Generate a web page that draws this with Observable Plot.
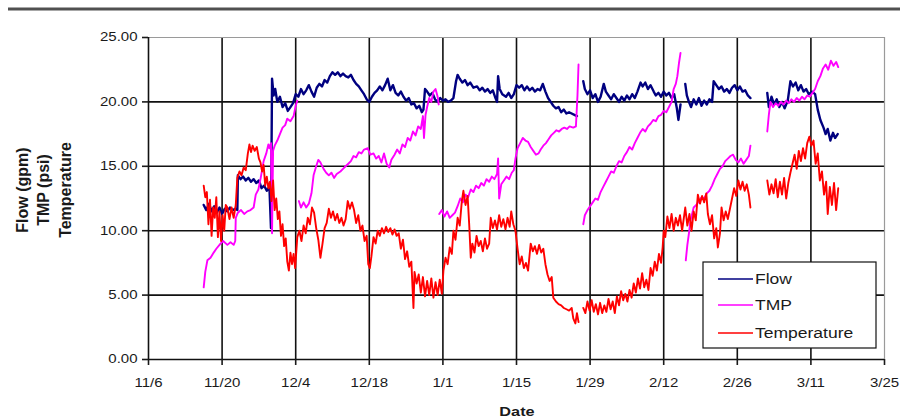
<!DOCTYPE html>
<html><head><meta charset="utf-8">
<script src="https://cdn.jsdelivr.net/npm/d3@7"></script>
<script src="https://cdn.jsdelivr.net/npm/@observablehq/plot@0.6"></script>
<style>
html,body{margin:0;padding:0;background:#fff;}
#chart{width:900px;height:419px;overflow:hidden;}
</style></head><body><div id="chart"></div>
<script>
// x = days since 11/6 (2003); null = gap in the record
const tickDays = [0,14,28,42,56,70,84,98,112,126,140];
const tickLabels = ["11/6","11/20","12/4","12/18","1/1","1/15","1/29","2/12","2/26","3/11","3/25"];
const yTicks = [0,5,10,15,20,25];
const seriesNames = ["Flow","TMP","Temperature"];
const seriesColors = ["#000080","#ff00ff","#ff0000"];

const flow = [
[10.5,12.0],[11.0,11.6],[11.5,12.1],[12.0,11.5],[12.5,11.9],[13.0,11.4],[13.5,11.8],[14.0,11.3],[14.5,11.7],[15.0,11.5],[15.5,11.8],[16.0,11.6],[16.5,11.7],[16.9,11.6],
[17.0,14.3],[17.5,14.0],[18.0,14.2],[18.5,13.9],[19.0,14.1],[19.5,13.8],[20.0,14.0],[20.5,13.7],[21.0,13.9],[21.5,13.3],[22.0,13.5],[22.5,13.1],[23.0,13.4],[23.3,10.2],
[23.5,21.8],[23.8,20.5],[24.1,21.0],[24.5,20.0],[25.0,20.4],[25.5,19.6],[26.0,19.9],[26.5,19.3],[27.0,19.6],[27.5,19.9],[28.0,20.6],[28.5,20.4],[29.0,21.0],[29.5,20.6],
[30.0,20.9],[30.5,21.3],[31.0,20.8],[31.5,20.4],[32.0,21.1],[32.5,21.4],[33.0,21.2],[33.5,21.7],[34.0,21.5],[34.5,22.0],[35.0,22.3],[35.5,22.1],[36.0,22.3],[36.5,22.0],
[37.0,22.2],[37.5,22.0],[38.0,21.9],[38.5,22.1],[39.0,21.7],[39.5,21.4],[40.0,21.2],[40.5,20.9],[41.0,20.6],[41.5,20.2],[42.0,20.0],[42.5,20.4],[43.0,20.7],[43.5,20.9],
[44.0,21.2],[44.5,20.9],[45.0,21.3],[45.5,21.8],[46.0,20.9],[46.5,21.3],[47.0,20.7],[47.5,20.5],[48.0,20.8],[48.5,20.4],[49.0,20.1],[49.5,20.3],[50.0,19.8],[50.5,19.9],
[51.0,19.5],[51.5,19.7],[52.0,19.2],[52.3,19.4],[52.6,21.0],[53.0,20.8],[53.5,20.5],[54.0,20.7],[54.5,20.2],[55.0,20.0],[55.5,20.3],[56.0,20.1],[56.5,20.2],[57.0,20.0],
[57.5,20.1],[58.0,20.3],[58.5,21.6],[58.8,22.1],[59.2,21.8],[59.7,21.5],[60.2,21.7],[60.7,21.3],[61.2,21.5],[61.8,21.1],[62.5,21.2],[63.0,20.9],[63.5,21.1],[64.0,20.8],
[64.5,21.0],[65.0,20.7],[65.5,20.9],[66.0,20.3],[66.3,20.0],[66.5,22.0],[66.8,21.0],[67.3,20.6],[68.0,20.4],[68.5,20.7],[69.0,20.3],[69.5,20.6],[70.0,21.3],[70.5,21.1],
[71.0,21.3],[71.5,20.9],[72.0,21.2],[72.5,20.9],[73.0,21.1],[73.5,20.8],[74.0,21.0],[74.5,20.9],[75.0,21.4],[75.5,20.8],[76.0,20.3],[76.5,20.0],[77.0,19.7],[77.5,19.5],
[78.0,19.6],[78.5,19.2],[79.0,19.4],[79.5,19.1],[80.0,19.2],[81.5,18.9],
null,
[82.7,21.6],[83.0,21.0],[83.5,20.6],[84.0,20.9],[84.5,20.3],[85.0,20.6],[85.5,20.0],[86.0,20.4],[86.6,21.4],[87.0,20.8],[87.5,20.5],[88.0,20.2],[88.5,20.6],[89.0,20.3],
[89.5,20.0],[90.0,20.4],[90.5,20.1],[91.0,20.5],[91.5,20.2],[92.0,20.6],[92.5,20.3],[93.0,20.8],[93.6,21.5],[94.0,21.2],[94.5,21.5],[95.0,21.0],[95.5,21.3],[96.1,20.8],
[96.5,20.5],[97.0,20.7],[97.5,20.4],[98.0,20.8],[98.5,20.5],[99.0,20.7],[99.5,20.3],[100.0,20.6],[100.5,19.5],[100.8,18.6],[101.2,19.8],
null,
[102.1,21.4],[102.4,20.5],[102.8,20.0],[103.2,19.6],[103.7,20.2],[104.2,19.8],[104.7,20.3],[105.2,19.7],[105.7,20.1],[106.2,19.8],[106.7,20.2],[107.2,20.0],[107.5,21.6],
[108.0,21.3],[108.5,21.0],[109.0,21.2],[109.5,20.8],[110.0,21.0],[110.5,20.7],[111.0,21.1],[111.5,21.3],[112.0,20.9],[112.5,21.2],[113.0,20.8],[113.5,20.9],[114.0,20.5],[114.5,20.3],
null,
[117.7,20.7],[118.0,19.6],[118.5,20.4],[119.0,19.8],[119.5,20.2],[120.0,19.6],[120.5,20.0],[121.0,19.5],[121.6,20.1],[122.1,21.6],[122.6,21.2],[123.1,21.5],[123.6,20.9],
[124.1,21.3],[124.6,20.8],[125.1,21.0],[125.6,20.6],[126.2,20.8],[126.8,20.6],[127.3,19.4],[127.8,18.6],[128.4,18.0],[128.8,17.5],[129.2,17.9],[129.7,17.0],[130.2,17.6],[130.6,17.2],[131.1,17.5]
];

const tmp = [
[10.5,5.6],[10.8,6.8],[11.2,7.7],[11.8,7.9],[12.4,8.3],[12.9,8.6],[13.7,9.0],[14.2,9.2],[15.0,8.9],[15.6,9.1],[16.2,8.9],[16.5,9.2],[16.6,11.0],[17.0,11.4],[17.6,11.6],
[18.2,11.3],[18.8,11.5],[19.4,11.6],[20.0,11.8],[20.4,12.8],[20.9,13.2],[21.3,14.0],[21.9,15.4],[22.4,16.0],[22.8,16.7],[23.0,16.4],[23.3,16.8],[23.5,9.8],[23.7,16.2],
[24.0,16.6],[24.5,17.0],[25.0,17.5],[25.5,18.0],[26.0,18.2],[26.4,18.7],[27.0,18.5],[27.6,18.9],[28.0,19.7],[28.3,20.1],
null,
[28.6,12.3],[29.0,11.8],[29.5,12.2],[30.0,11.8],[30.5,12.1],[31.0,12.9],[31.4,14.3],[31.9,15.0],[32.3,15.5],[32.7,15.3],[33.3,14.8],[33.8,14.5],[34.3,14.3],[34.8,14.5],
[35.3,14.1],[35.8,14.4],[36.5,14.6],[37.0,14.8],[37.5,15.0],[38.0,15.2],[38.5,15.4],[39.0,15.8],[39.5,15.7],[40.0,16.1],[40.5,16.0],[41.0,16.3],[41.7,16.4],[42.2,15.9],
[42.8,16.0],[43.3,15.6],[43.8,15.8],[44.3,15.3],[44.8,16.0],[45.3,15.2],[45.8,14.9],[46.2,15.5],[46.8,15.9],[47.3,16.3],[47.8,16.0],[48.3,16.7],[48.8,16.5],[49.3,17.2],
[49.8,17.0],[50.3,17.7],[50.8,17.4],[51.3,18.1],[51.8,17.9],[52.2,18.9],[52.4,17.2],[52.7,19.0],[53.0,19.6],[53.4,20.3],[53.8,20.0],[54.2,20.8],[54.6,21.0],[55.0,20.4],[55.2,19.8],
null,
[55.3,11.3],[55.8,11.6],[56.3,11.1],[56.8,11.5],[57.3,11.0],[57.8,11.2],[58.3,11.4],[58.8,11.9],[59.3,12.5],[59.8,12.2],[60.3,12.8],[60.8,12.6],[61.3,13.2],[61.8,13.0],
[62.3,13.5],[62.8,13.3],[63.3,13.7],[63.8,13.5],[64.3,14.0],[64.8,13.8],[65.3,14.2],[65.8,14.0],[66.3,14.4],[66.5,15.6],[66.7,12.5],[67.1,13.6],[67.6,13.9],[68.1,14.2],
[68.6,14.0],[69.1,14.5],[69.5,14.7],[69.8,15.6],[70.2,16.4],[70.7,16.8],[71.2,17.2],[71.7,17.0],[72.2,16.9],[72.7,16.5],[73.2,16.2],[73.7,15.9],[74.2,16.0],[74.6,16.3],
[75.1,16.6],[75.6,16.8],[76.1,17.1],[76.6,17.4],[77.1,17.6],[77.6,17.8],[78.1,17.7],[78.6,17.9],[79.1,18.0],[79.6,17.9],[80.1,18.1],[80.8,18.0],[81.3,18.1],[81.6,20.5],[81.8,22.9],
null,
[82.7,10.5],[83.0,11.2],[83.5,11.6],[84.0,11.9],[84.5,12.2],[85.0,12.5],[85.5,12.4],[86.0,13.0],[86.5,13.4],[87.0,13.8],[87.5,14.2],[88.0,14.6],[88.5,14.5],[89.0,15.0],
[89.5,15.4],[90.0,15.3],[90.5,15.8],[91.0,16.1],[91.5,16.5],[92.0,16.3],[92.5,16.8],[93.0,17.2],[93.5,17.6],[94.0,17.9],[94.5,17.7],[95.0,18.1],[95.5,18.3],[96.0,18.6],
[96.5,18.5],[97.0,18.9],[97.5,19.0],[98.0,19.3],[98.5,19.2],[99.0,19.6],[99.5,20.0],[99.9,21.0],[100.3,21.4],[100.6,22.0],[100.9,23.0],[101.2,23.8],
null,
[102.2,7.7],[102.5,8.9],[102.8,9.8],[103.1,10.8],[103.4,11.3],[103.7,11.8],[104.2,12.0],[104.7,12.3],[105.2,12.6],[105.7,12.5],[106.2,12.9],[106.7,13.1],[107.2,13.5],
[107.7,14.0],[108.2,14.4],[108.7,14.8],[109.2,15.0],[109.7,15.4],[110.2,15.6],[110.7,15.8],[111.2,15.9],[111.7,15.5],[112.2,15.3],[112.7,15.6],[113.2,15.2],[113.7,15.5],[114.2,15.8],[114.5,16.6],
null,
[117.7,17.7],[118.0,19.0],[118.3,20.0],[118.8,19.6],[119.3,19.9],[119.8,19.7],[120.3,20.0],[120.8,19.8],[121.3,20.1],[121.8,19.9],[122.3,20.2],[122.8,20.0],[123.3,20.3],
[123.8,20.1],[124.3,20.4],[124.8,20.2],[125.3,20.5],[125.8,20.4],[126.3,20.7],[126.8,21.0],[127.3,21.6],[127.8,22.0],[128.3,22.6],[128.8,22.9],[129.3,22.5],[129.8,23.2],[130.3,22.8],[130.8,23.1],[131.2,22.7]
];

const temperature = [
[10.5,13.5],[10.8,12.6],[11.1,13.0],[11.4,10.5],[11.7,12.4],[12.0,9.6],[12.3,11.8],[12.6,11.0],[12.9,12.6],[13.2,9.5],[13.5,11.5],[13.8,9.2],[14.1,11.2],[14.4,10.0],
[14.7,12.0],[15.0,11.8],[15.4,10.9],[15.8,11.8],[16.2,11.0],[16.6,12.0],[16.9,14.1],[17.3,14.6],[17.7,14.3],[18.1,14.9],[18.5,14.7],[18.9,16.0],[19.2,16.7],[19.5,16.1],
[19.8,16.6],[20.2,16.2],[20.6,16.5],[21.0,15.6],[21.3,15.3],[21.6,14.6],[21.9,15.1],[22.2,13.5],[22.5,14.2],[22.8,13.3],[23.1,13.8],[23.4,12.3],[23.7,13.9],[24.0,11.6],
[24.3,12.5],[24.6,10.9],[24.9,11.5],[25.2,9.6],[25.5,10.5],[25.8,8.8],[26.1,9.4],[26.4,7.6],[26.7,6.9],[27.0,8.3],[27.3,7.4],[27.6,8.2],[27.9,7.1],[28.3,9.5],[28.7,10.0],
[29.1,9.2],[29.5,10.4],[29.9,9.8],[30.3,11.0],[30.7,10.5],[31.1,11.8],[31.5,11.4],[31.9,10.2],[32.3,9.3],[32.7,7.9],[33.1,9.0],[33.5,10.2],[33.9,10.6],[34.3,11.7],
[34.7,11.0],[35.1,11.5],[35.5,10.8],[35.9,11.3],[36.3,10.6],[36.7,11.0],[37.1,10.4],[37.5,10.9],[37.9,12.3],[38.3,11.7],[38.7,12.2],[39.1,11.6],[39.5,10.6],[39.9,11.2],
[40.3,10.0],[40.7,10.4],[41.1,9.2],[41.5,9.6],[41.8,7.4],[42.1,7.1],[42.4,8.0],[42.8,9.5],[43.2,9.0],[43.6,10.0],[44.0,9.6],[44.4,10.2],[44.8,9.8],[45.2,10.3],[45.6,9.9],
[46.0,10.2],[46.4,9.7],[46.8,10.1],[47.2,9.6],[47.6,9.8],[48.0,8.6],[48.4,9.3],[48.8,7.8],[49.2,8.4],[49.6,7.2],[50.0,7.6],[50.4,4.0],[50.6,6.8],[51.0,5.9],[51.4,6.6],
[51.8,5.2],[52.2,6.4],[52.6,4.9],[53.0,6.1],[53.4,5.0],[53.8,6.3],[54.2,4.8],[54.6,6.0],[55.0,5.0],[55.4,6.2],[55.8,5.1],[56.1,6.9],[56.5,7.9],[56.9,7.4],[57.3,8.7],
[57.7,8.2],[58.0,10.0],[58.4,9.3],[58.8,11.0],[59.2,10.4],[59.6,12.3],[59.9,13.1],[60.3,12.0],[60.7,12.7],[61.0,10.5],[61.3,7.9],[61.6,9.0],[62.0,8.3],[62.4,9.6],[62.8,8.8],
[63.2,9.2],[63.6,8.4],[64.0,9.4],[64.4,8.6],[64.8,9.0],[65.1,11.0],[65.5,10.2],[65.9,10.8],[66.3,10.1],[66.7,11.2],[67.1,10.3],[67.5,10.9],[67.9,10.1],[68.3,11.0],[68.7,10.3],
[69.0,11.5],[69.4,10.5],[69.8,10.0],[70.2,8.6],[70.6,7.4],[71.0,8.0],[71.4,7.1],[71.8,7.5],[72.2,6.9],[72.7,9.0],[73.1,8.4],[73.5,8.8],[73.9,8.2],[74.3,8.9],[74.7,8.3],
[75.1,8.6],[75.5,7.4],[75.9,6.6],[76.3,6.1],[76.7,6.4],[77.0,4.8],[77.5,4.5],[78.0,4.3],[78.5,4.2],[79.0,4.0],[79.5,3.9],[80.0,3.8],[80.5,4.0],[80.8,3.2],[81.2,2.8],[81.5,3.6],[81.8,2.9],
null,
[82.7,4.0],[83.1,3.6],[83.5,4.5],[83.9,3.8],[84.3,4.6],[84.7,3.7],[85.1,4.3],[85.5,3.5],[85.9,4.4],[86.3,3.6],[86.7,4.2],[87.1,3.7],[87.5,4.7],[87.9,3.9],[88.3,4.5],
[88.7,3.6],[89.1,4.9],[89.5,4.2],[89.9,5.3],[90.3,4.6],[90.7,5.1],[91.1,4.5],[91.5,5.4],[91.9,4.8],[92.3,5.9],[92.7,5.2],[93.1,6.3],[93.5,5.5],[93.9,6.7],[94.3,5.6],
[94.7,6.2],[95.1,5.4],[95.5,7.1],[95.9,6.5],[96.3,7.6],[96.7,6.9],[97.1,8.2],[97.5,7.5],[97.8,8.7],[98.0,10.0],[98.3,9.5],[98.7,11.1],[99.1,10.2],[99.5,11.3],[99.9,10.0],
[100.3,11.0],[100.7,10.4],[101.1,11.2],[101.5,10.0],[102.1,11.8],[102.5,10.4],[102.9,11.3],[103.3,10.0],[103.7,11.5],[104.1,10.8],[104.5,12.8],[104.9,12.1],[105.3,12.7],
[105.7,12.2],[106.1,12.9],[106.4,11.3],[106.8,10.5],[107.2,11.2],[107.6,9.4],[108.0,10.2],[108.3,8.7],[108.7,9.8],[109.0,11.8],[109.4,10.8],[109.8,11.5],[110.2,10.9],
[110.6,11.7],[111.0,12.5],[111.4,13.3],[111.8,12.7],[112.2,13.9],[112.6,13.2],[113.0,13.8],[113.4,13.1],[113.8,13.6],[114.2,12.8],[114.5,11.8],
null,
[117.7,13.9],[118.1,12.8],[118.5,13.6],[118.9,12.9],[119.3,14.0],[119.7,12.6],[120.1,13.8],[120.5,12.8],[120.9,14.1],[121.3,12.5],[121.7,13.7],[122.1,14.5],[122.5,15.2],
[122.9,15.9],[123.3,14.8],[123.7,16.2],[124.1,15.4],[124.5,16.4],[124.9,15.6],[125.3,16.8],[125.7,17.3],[126.1,16.6],[126.5,17.0],[126.9,15.2],[127.3,16.0],[127.7,13.9],
[128.1,14.6],[128.5,12.8],[128.9,13.8],[129.2,11.3],[129.6,13.4],[130.0,12.0],[130.4,13.7],[130.8,11.6],[131.2,13.3]
];

const toRows = arr => arr.map(p => p === null ? {day: NaN, value: NaN} : {day: p[0], value: p[1]});
const seriesData = [flow, tmp, temperature].map(toRows);
const seriesWidths = [2.4, 1.9, 1.9];

const W = 900, H = 419;
const mL = 148, mR = 16, mT = 37, mB = 60;
const font = "'Liberation Sans', Arial, Helvetica, sans-serif";
const ink = "#1a1a1a";
const STRETCH = 1.25; // the source figure's text is horizontally widened

const plot = Plot.plot({
  width: W, height: H,
  marginLeft: mL, marginRight: mR, marginTop: mT, marginBottom: mB,
  style: {fontFamily: font, fontSize: "12px", color: ink, background: "#ffffff", overflow: "visible"},
  x: {domain: [0, 140]},
  y: {domain: [0, 25]},
  marks: [
    Plot.gridX(tickDays.slice(1, -1), {stroke: "#111", strokeOpacity: 1, strokeWidth: 1.6}),
    Plot.gridY(yTicks.slice(1, -1), {stroke: "#111", strokeOpacity: 1, strokeWidth: 1.6}),
    Plot.ruleX([tickDays[tickDays.length - 1]], {stroke: "#9a9a9a", strokeWidth: 1.2}),
    Plot.ruleY([yTicks[yTicks.length - 1]], {stroke: "#9a9a9a", strokeWidth: 1.2}),
    ...seriesData.map((rows, i) => Plot.line(rows, {x: "day", y: "value", stroke: seriesColors[i], strokeWidth: seriesWidths[i]})),
    Plot.ruleX([0], {stroke: "#111", strokeWidth: 1.6}),
    Plot.ruleY([0], {stroke: "#111", strokeWidth: 1.6}),
    Plot.axisX(tickDays, {tickFormat: d => tickLabels[tickDays.indexOf(d)], tickSize: 6, tickPadding: 13, strokeWidth: 1.6, label: null, fontSize: 12}),
    Plot.axisY(yTicks, {tickFormat: d3.format(".2f"), tickSize: 6, tickPadding: 5, strokeWidth: 1.6, label: null, fontSize: 12})
  ]
});

document.getElementById("chart").appendChild(plot);
const svg = d3.select(plot);

function widen(node, k) {
  const L = node.getComputedTextLength();
  if (L > 0) {
    node.setAttribute("textLength", (L * k).toFixed(2));
    node.setAttribute("lengthAdjust", "spacingAndGlyphs");
  }
}
svg.selectAll("text").each(function() { widen(this, STRETCH); });

// top rule from the page header
svg.append("line").attr("x1", 8).attr("x2", W).attr("y1", 9).attr("y2", 9)
  .attr("stroke", "#505050").attr("stroke-width", 3);

// y-axis title (three stacked rotated lines)
const yTitle = ["Flow (gpm)", "TMP (psi)", "Temperature"];
const yTitleX = [22, 43, 65];
yTitle.forEach((t, i) => {
  svg.append("text").text(t)
    .attr("transform", `translate(${yTitleX[i]},190) rotate(-90)`)
    .attr("text-anchor", "middle").attr("dy", "0.35em")
    .attr("font-family", font).attr("font-weight", "bold").attr("font-size", 16).attr("fill", ink);
});

// x-axis title
const dateT = svg.append("text").text("Date")
  .attr("x", 517).attr("y", 411).attr("dy", "0.35em")
  .attr("text-anchor", "middle").attr("font-family", font).attr("font-weight", "bold")
  .attr("font-size", 13).attr("fill", ink);
widen(dateT.node(), STRETCH);

// legend
const lg = svg.append("g").attr("transform", "translate(703,262)");
lg.append("rect").attr("width", 173).attr("height", 86).attr("fill", "#fff").attr("stroke", "#111").attr("stroke-width", 1.2);
const rowY = [17, 43, 71];
seriesNames.forEach((n, i) => {
  lg.append("line").attr("x1", 15).attr("x2", 50).attr("y1", rowY[i]).attr("y2", rowY[i])
    .attr("stroke", seriesColors[i]).attr("stroke-width", 1.7);
  const t = lg.append("text").text(n).attr("x", 52).attr("y", rowY[i]).attr("dy", "0.35em")
    .attr("text-anchor", "start")
    .attr("font-family", font).attr("font-size", 14).attr("fill", ink);
  widen(t.node(), STRETCH);
});
</script>
</body></html>
